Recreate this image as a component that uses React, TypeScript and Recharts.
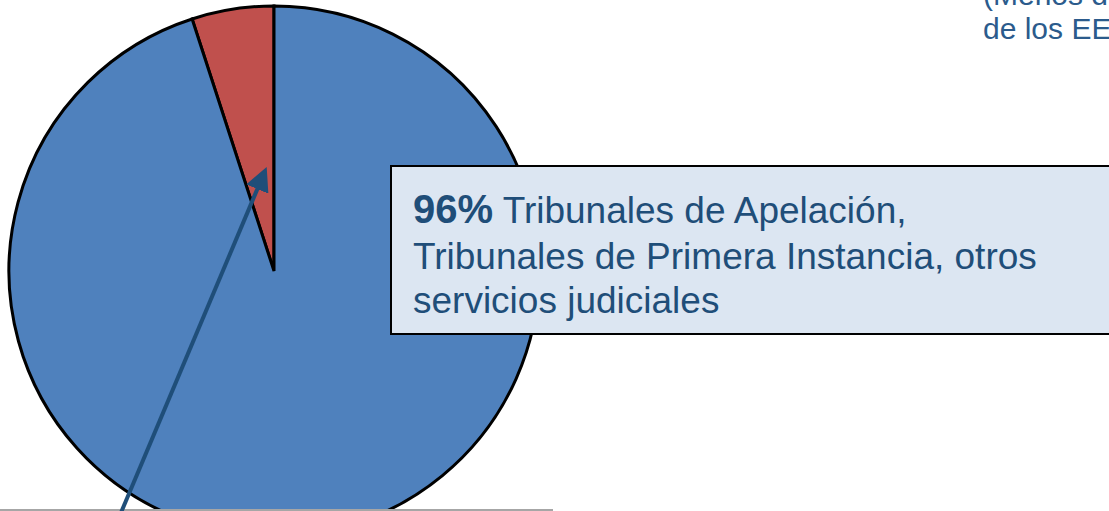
import React from "react";
import { PieChart, Pie, Cell } from "recharts";

const categories = ["Otros (Menos de 4%)", "Tribunales de Apelación, Tribunales de Primera Instancia, otros servicios judiciales"];
const values = [5, 95];
const colors = ["#C0504D", "#4F81BD"];
const calloutBold = "96%";
const calloutLines = [" Tribunales de Apelación,", "Tribunales de Primera Instancia, otros", "servicios judiciales"];
const topNoteLines = ["(Menos de 4%", "de los EEUU)"];

const data = categories.map((name, i) => ({ name, value: values[i] }));

export default function App() {
  const W = 1109;
  const H = 511;
  const textColor = "#1F4E79";
  const font = "'Liberation Sans', Arial, sans-serif";
  return (
    <div style={{ position: "absolute", left: 0, top: 0, width: W, height: H, overflow: "hidden", background: "#fff" }}>
      <div style={{ position: "absolute", left: 0, top: 0 }}>
        <PieChart width={W} height={H} margin={{ top: 0, right: 0, bottom: 0, left: 0 }}>
          <Pie
            data={data}
            dataKey="value"
            nameKey="name"
            cx={274}
            cy={271}
            outerRadius={265}
            startAngle={90}
            endAngle={450}
            stroke="#000"
            strokeWidth={3}
            isAnimationActive={false}
            label={false}
            labelLine={false}
          >
            {data.map((d, i) => (
              <Cell key={d.name} fill={colors[i]} />
            ))}
          </Pie>
        </PieChart>
      </div>
      <svg width={W} height={H} style={{ position: "absolute", left: 0, top: 0 }}>
        <defs>
          <marker id="ah" markerWidth="6" markerHeight="6" refX="3" refY="3" orient="auto" markerUnits="strokeWidth">
            <path d="M0,0 L6,3 L0,6 Z" fill={textColor} />
          </marker>
        </defs>
        <line x1={0} y1={510} x2={553} y2={510} stroke="#A6A6A6" strokeWidth={2} />
        <line x1={120} y1={515} x2={262} y2={178} stroke={textColor} strokeWidth={4} markerEnd="url(#ah)" />
        <rect x={391} y={166} width={730} height={168} fill="#DCE6F2" stroke="#000" strokeWidth={2} />
        <text x={413} y={223} fill={textColor} fontFamily={font} fontSize={37}>
          <tspan fontWeight="bold" fontSize={40}>{calloutBold}</tspan>
          <tspan>{calloutLines[0]}</tspan>
          <tspan x={413} y={269}>{calloutLines[1]}</tspan>
          <tspan x={413} y={313}>{calloutLines[2]}</tspan>
        </text>
        <text x={983} y={5} fill="#2B5B8C" fontFamily={font} fontSize={30}>
          {topNoteLines[0]}
        </text>
        <text x={983} y={39} fill="#2B5B8C" fontFamily={font} fontSize={30}>
          {topNoteLines[1]}
        </text>
      </svg>
    </div>
  );
}
